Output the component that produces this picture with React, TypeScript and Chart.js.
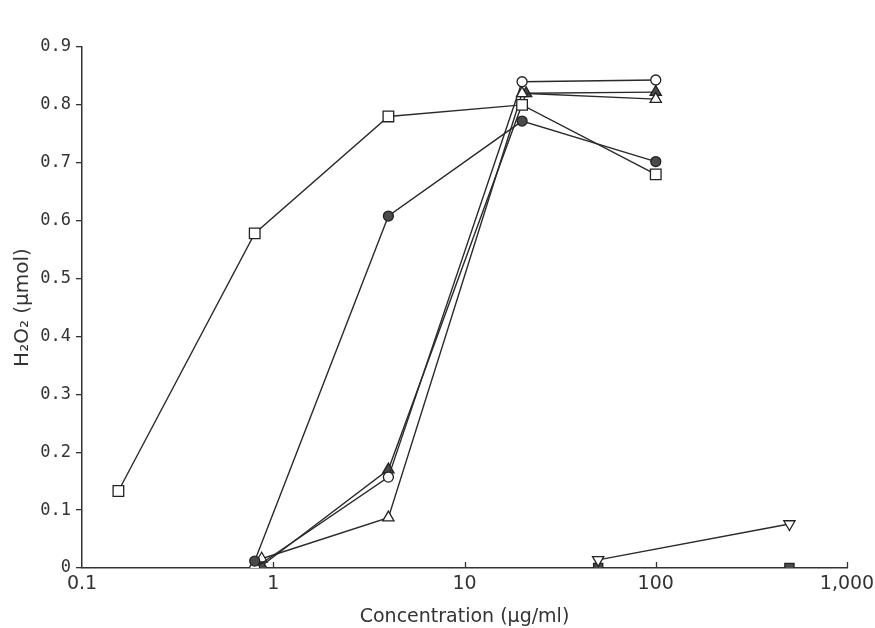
import React, { useEffect, useRef } from "react";
import { Chart, registerables } from "chart.js";

Chart.register(...registerables);

const xTicks = [0.1, 1, 10, 100, 1000];
const xTickLabels = ["0.1", "1", "10", "100", "1,000"];
const yTicks = [0, 0.1, 0.2, 0.3, 0.4, 0.5, 0.6, 0.7, 0.8, 0.9];

const openSquareX = [0.155, 0.8, 4, 20, 100];
const openSquareY = [0.133, 0.578, 0.78, 0.8, 0.68];

const filledCircleX = [0.8, 4, 20, 100];
const filledCircleY = [0.012, 0.608, 0.772, 0.702];

const openCircleX = [0.8, 4, 20, 100];
const openCircleY = [0.0, 0.157, 0.84, 0.843];

const openTriangleX = [0.87, 4, 20, 100];
const openTriangleY = [0.016, 0.087, 0.82, 0.81];

const filledTriangleX = [0.87, 4, 21, 100];
const filledTriangleY = [0.004, 0.17, 0.82, 0.822];

const invTriangleX = [50, 500];
const invTriangleY = [0.014, 0.076];

const filledSquareX = [50, 500];
const filledSquareY = [0.0, 0.0];

const pts = (xs: number[], ys: number[]) => xs.map((x, i) => ({ x, y: ys[i] }));

export default function App() {
  const ref = useRef<HTMLCanvasElement | null>(null);
  useEffect(() => {
    if (!ref.current) return;
    const line = "#2a2a2a";
    const base = {
      showLine: true,
      borderColor: line,
      borderWidth: 1.4,
      pointBorderColor: "#222",
      pointBorderWidth: 1.3,
    };
    const innerTicks = {
      id: "innerTicks",
      afterDraw(chart: any) {
        const ctx = chart.ctx;
        const xs = chart.scales.x;
        const b = chart.chartArea.bottom;
        ctx.save();
        ctx.strokeStyle = "#333";
        ctx.lineWidth = 1.3;
        xTicks.slice(1).forEach((v) => {
          const px = Math.round(xs.getPixelForValue(v)) + 0.5;
          ctx.beginPath();
          ctx.moveTo(px, b);
          ctx.lineTo(px, b - 6);
          ctx.stroke();
        });
        ctx.restore();
      },
    };
    const chart = new Chart(ref.current, {
      type: "scatter",
      data: {
        datasets: [
          { ...base, data: pts(openSquareX, openSquareY), pointStyle: "rect", pointRadius: 7.5, pointBackgroundColor: "#fff" },
          { ...base, data: pts(filledCircleX, filledCircleY), pointStyle: "circle", pointRadius: 5, pointBackgroundColor: "#4a4a4a" },
          { ...base, data: pts(openCircleX, openCircleY), pointStyle: "circle", pointRadius: 5, pointBackgroundColor: "#fff" },
          { ...base, data: pts(openTriangleX, openTriangleY), pointStyle: "triangle", pointRadius: 6.5, pointBackgroundColor: "#fff" },
          { ...base, data: pts(filledTriangleX, filledTriangleY), pointStyle: "triangle", pointRadius: 6.5, pointBackgroundColor: "#4a4a4a" },
          { ...base, data: pts(invTriangleX, invTriangleY), pointStyle: "triangle", rotation: 180, pointRadius: 6.5, pointBackgroundColor: "#fff" },
          { ...base, showLine: false, data: pts(filledSquareX, filledSquareY), pointStyle: "rect", pointRadius: 6.5, pointBackgroundColor: "#4a4a4a" },
        ] as any,
      },
      options: {
        animation: false,
        responsive: false,
        maintainAspectRatio: false,
        layout: { padding: { top: 47, right: 28, left: 0, bottom: 0 } },
        plugins: { legend: { display: false }, tooltip: { enabled: false } },
        scales: {
          x: {
            type: "logarithmic",
            min: 0.1,
            max: 1000,
            afterBuildTicks: (s: any) => {
              s.ticks = xTicks.map((v) => ({ value: v }));
            },
            afterFit: (s: any) => {
              s.height = 60;
              s.paddingLeft = 0;
              s.paddingRight = 0;
            },
            ticks: {
              autoSkip: false,
              maxRotation: 0,
              padding: 5,
              color: "#333",
              font: { family: "DejaVu Sans", size: 19 },
              callback: (v: any) => {
                const i = xTicks.indexOf(Number(v));
                return i >= 0 ? xTickLabels[i] : "";
              },
            },
            grid: { display: true, drawOnChartArea: false, drawTicks: false },
            border: { display: true, color: "#333", width: 1.5 },
            title: {
              display: true,
              text: "Concentration (µg/ml)",
              color: "#333",
              font: { family: "DejaVu Sans", size: 19 },
              padding: { top: 4, bottom: 0 },
            },
          },
          y: {
            type: "linear",
            min: 0,
            max: 0.9,
            afterBuildTicks: (s: any) => {
              s.ticks = yTicks.map((v) => ({ value: v }));
            },
            afterFit: (s: any) => {
              s.width = 82;
              s.paddingTop = 0;
              s.paddingBottom = 0;
            },
            ticks: {
              color: "#333",
              padding: 5,
              font: { family: "DejaVu Sans Mono", size: 17 },
              callback: (v: any) => (Number(v) === 0 ? "0" : Number(v).toFixed(1)),
            },
            grid: { display: true, drawOnChartArea: false, drawTicks: true, tickLength: 6, color: "#333", lineWidth: 1.3 },
            border: { display: true, color: "#333", width: 1.5 },
            title: {
              display: true,
              text: "H₂O₂ (µmol)",
              color: "#333",
              font: { family: "DejaVu Sans", size: 20 },
              padding: { top: 11, bottom: 0 },
            },
          },
        },
      } as any,
      plugins: [innerTicks],
    });
    return () => chart.destroy();
  }, []);
  return (
    <div style={{ position: "fixed", left: 0, top: 0, width: 875, height: 628, background: "#fff" }}>
      <canvas ref={ref} width={875} height={628} style={{ width: 875, height: 628, display: "block" }} />
    </div>
  );
}
